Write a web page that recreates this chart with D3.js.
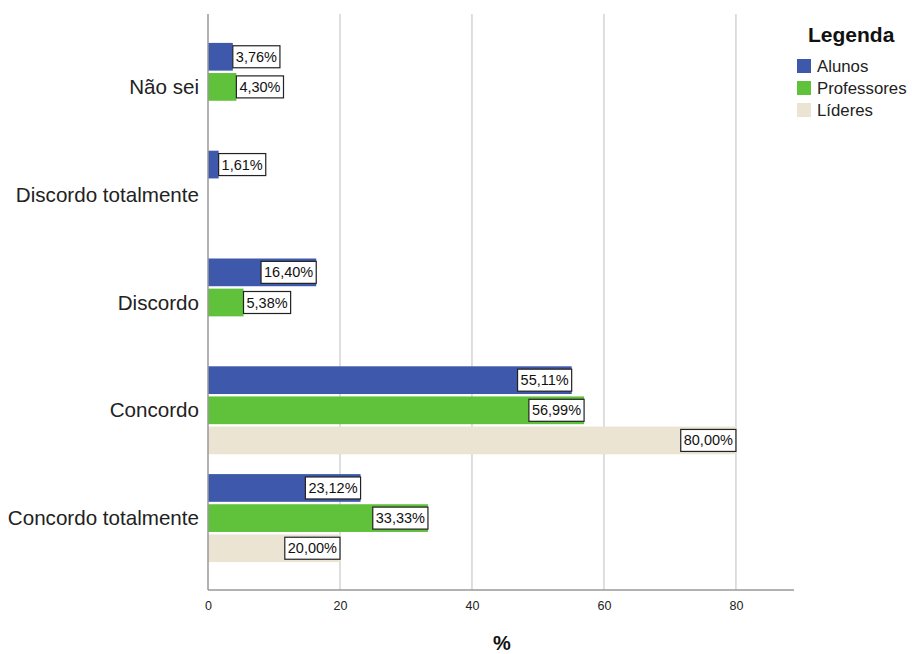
<!DOCTYPE html>
<html><head><meta charset="utf-8">
<script src="https://cdn.jsdelivr.net/npm/d3@7"></script>
<style>body{margin:0;background:#fff;}svg{display:block;font-family:"Liberation Sans",Arial,sans-serif;}</style>
</head><body>
<svg id="chart" width="912" height="654"></svg>
<script>
const categories = ["Não sei", "Discordo totalmente", "Discordo", "Concordo", "Concordo totalmente"];
const seriesNames = ["Alunos", "Professores", "Líderes"];
const alunos = [3.76, 1.61, 16.40, 55.11, 23.12];
const professores = [4.30, null, 5.38, 56.99, 33.33];
const lideres = [null, null, null, 80.00, 20.00];
const xTicks = [0, 20, 40, 60, 80];
const colors = ["#3e58ac", "#5fc23a", "#ebe4d2"];

const seriesValues = [alunos, professores, lideres];
const svg = d3.select("#chart");
const x = d3.scaleLinear().domain([0, 88.8]).range([208, 794]);
const y = d3.scalePoint().domain(categories).range([33, 572]).padding(0.5);
const yInner = d3.scaleBand().domain(seriesNames).range([-44, 44]).paddingInner(0.08);
const yTop = 14, yBottom = 590;

// grid
svg.append("g").selectAll("line").data(xTicks.slice(1)).join("line")
  .attr("x1", d => x(d)).attr("x2", d => x(d)).attr("y1", yTop).attr("y2", yBottom)
  .attr("stroke", "#d4d4d4").attr("stroke-width", 1.5);

// bars
const data = [];
categories.forEach((c, i) => seriesNames.forEach((s, j) => {
  const v = seriesValues[j][i];
  if (v != null) data.push({c, s, v, color: colors[j]});
}));
const gBars = svg.append("g");
gBars.selectAll("rect").data(data).join("rect")
  .attr("x", x(0)).attr("y", d => y(d.c) + yInner(d.s))
  .attr("width", d => x(d.v) - x(0)).attr("height", yInner.bandwidth())
  .attr("fill", d => d.color);

// axes
svg.append("line").attr("x1", x(0)).attr("x2", x(0)).attr("y1", yTop).attr("y2", yBottom)
  .attr("stroke", "#999").attr("stroke-width", 1.5);
svg.append("line").attr("x1", x(0)).attr("x2", 794).attr("y1", yBottom).attr("y2", yBottom)
  .attr("stroke", "#999").attr("stroke-width", 1.5);

const xAxis = svg.append("g").attr("transform", `translate(0,${yBottom})`)
  .call(d3.axisBottom(x).tickValues(xTicks).tickSize(0).tickPadding(11));
xAxis.select(".domain").remove();
xAxis.selectAll("text").attr("font-size", 12.5).attr("fill", "#222")
  .attr("font-family", "'Liberation Sans',Arial,sans-serif");

const yAxis = svg.append("g").attr("transform", `translate(${x(0)},0)`)
  .call(d3.axisLeft(y).tickSize(0).tickPadding(9));
yAxis.select(".domain").remove();
yAxis.selectAll("text").attr("font-size", 20.6).attr("fill", "#222")
  .attr("font-family", "'Liberation Sans',Arial,sans-serif");

// value labels
const fmt = v => d3.format(".2f")(v).replace(".", ",") + "%";
const gLab = svg.append("g");
data.forEach(d => {
  const g = gLab.append("g");
  const t = g.append("text").text(fmt(d.v)).attr("font-size", 14.5).attr("fill", "#111");
  const tw = t.node().getComputedTextLength();
  const bw = tw + 6, bh = 22;
  const barEnd = x(d.v), barW = barEnd - x(0);
  const left = barW >= bw ? barEnd - bw : barEnd;
  const cy = y(d.c) + yInner(d.s) + yInner.bandwidth() / 2;
  g.insert("rect", "text").attr("x", left).attr("y", cy - bh / 2).attr("width", bw).attr("height", bh)
    .attr("fill", "#fff").attr("stroke", "#222").attr("stroke-width", 1.2);
  t.attr("x", left + 3).attr("y", cy + 5);
});

// x title
svg.append("text").attr("x", (x(0) + 794) / 2 + 1).attr("y", 650).attr("text-anchor", "middle")
  .attr("font-size", 20).attr("font-weight", "bold").attr("fill", "#111").text("%");

// legend
const lg = svg.append("g");
lg.append("text").attr("x", 808).attr("y", 42).attr("font-size", 21).attr("font-weight", "bold")
  .attr("fill", "#111").text("Legenda");
seriesNames.forEach((s, i) => {
  const yy = 59 + i * 22;
  lg.append("rect").attr("x", 797).attr("y", yy).attr("width", 14).attr("height", 14).attr("fill", colors[i]);
  lg.append("text").attr("x", 817).attr("y", yy + 12.5).attr("font-size", 16.8).attr("fill", "#222").text(s);
});
</script>
</body></html>
